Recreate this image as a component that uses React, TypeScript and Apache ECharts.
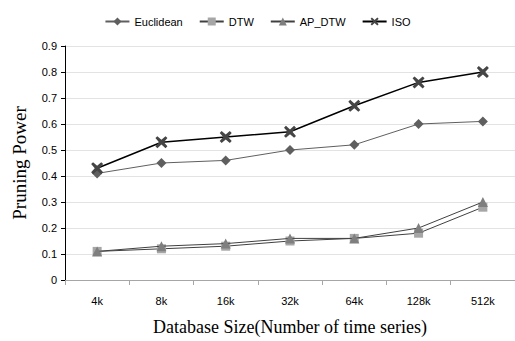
import React, { useEffect, useRef } from "react";
import * as echarts from "echarts";

const categories = ["4k", "8k", "16k", "32k", "64k", "128k", "512k"];
const euclidean = [0.41, 0.45, 0.46, 0.5, 0.52, 0.6, 0.61];
const dtw = [0.11, 0.12, 0.13, 0.15, 0.16, 0.18, 0.28];
const apDtw = [0.11, 0.13, 0.14, 0.16, 0.16, 0.2, 0.3];
const iso = [0.43, 0.53, 0.55, 0.57, 0.67, 0.76, 0.8];

const X_PATH =
  "path://M1.6,0 L5,3 L8.4,0 L10,1.6 L7,5 L10,8.4 L8.4,10 L5,7 L1.6,10 L0,8.4 L3,5 L0,1.6 Z";

export default function App() {
  const ref = useRef<HTMLDivElement>(null);
  useEffect(() => {
    if (!ref.current) return;
    const chart = echarts.init(ref.current, undefined, { renderer: "svg" });
    const sans = "Liberation Sans";
    const serif = "Liberation Serif";
    chart.setOption({
      animation: false,
      backgroundColor: "#ffffff",
      legend: {
        top: 11,
        left: "center",
        itemWidth: 24,
        itemHeight: 10,
        itemGap: 16,
        textStyle: { fontFamily: sans, fontSize: 11, color: "#000" },
        data: ["Euclidean", "DTW", "AP_DTW", "ISO"],
      },
      grid: { left: 65, top: 46, bottom: 61, right: -4 },
      xAxis: {
        type: "category",
        data: categories,
        boundaryGap: true,
        name: "Database Size(Number of time series)",
        nameLocation: "middle",
        nameGap: 38,
        nameTextStyle: { fontFamily: serif, fontSize: 18, color: "#000" },
        axisLine: { lineStyle: { color: "#a6a6a6", width: 1 } },
        axisTick: { show: true, length: 5, lineStyle: { color: "#a6a6a6" } },
        axisLabel: { fontFamily: sans, fontSize: 11, color: "#000", margin: 15 },
        splitLine: { show: false },
      },
      yAxis: {
        type: "value",
        min: 0,
        max: 0.9,
        interval: 0.1,
        name: "Pruning Power",
        nameLocation: "middle",
        nameGap: 36,
        nameTextStyle: { fontFamily: serif, fontSize: 19, color: "#000" },
        axisLine: { show: true, lineStyle: { color: "#000", width: 1 } },
        axisTick: { show: true, length: 4, lineStyle: { color: "#000" } },
        axisLabel: {
          fontFamily: sans,
          fontSize: 11,
          color: "#000",
          margin: 8,
          formatter: (v: number) => (v === 0 ? "0" : v.toFixed(1)),
        },
        splitLine: { lineStyle: { color: "#e3e3e3", width: 1 } },
      },
      series: [
        {
          name: "Euclidean",
          type: "line",
          data: euclidean,
          symbol: "diamond",
          symbolSize: 10,
          itemStyle: { color: "#5f5f5f" },
          lineStyle: { color: "#5f5f5f", width: 1 },
          z: 3,
        },
        {
          name: "DTW",
          type: "line",
          data: dtw,
          symbol: "rect",
          symbolSize: 9,
          itemStyle: { color: "#a6a6a6" },
          lineStyle: { color: "#404040", width: 1 },
          z: 2,
        },
        {
          name: "AP_DTW",
          type: "line",
          data: apDtw,
          symbol: "triangle",
          symbolSize: 10,
          itemStyle: { color: "#7f7f7f" },
          lineStyle: { color: "#404040", width: 1 },
          z: 3,
        },
        {
          name: "ISO",
          type: "line",
          data: iso,
          symbol: X_PATH,
          symbolSize: 12,
          itemStyle: { color: "#454545" },
          lineStyle: { color: "#000000", width: 1.5 },
          z: 4,
        },
      ],
    });
    return () => chart.dispose();
  }, []);
  return (
    <div
      ref={ref}
      style={{ position: "fixed", left: 0, top: 0, width: 515, height: 341, background: "#fff" }}
    />
  );
}
